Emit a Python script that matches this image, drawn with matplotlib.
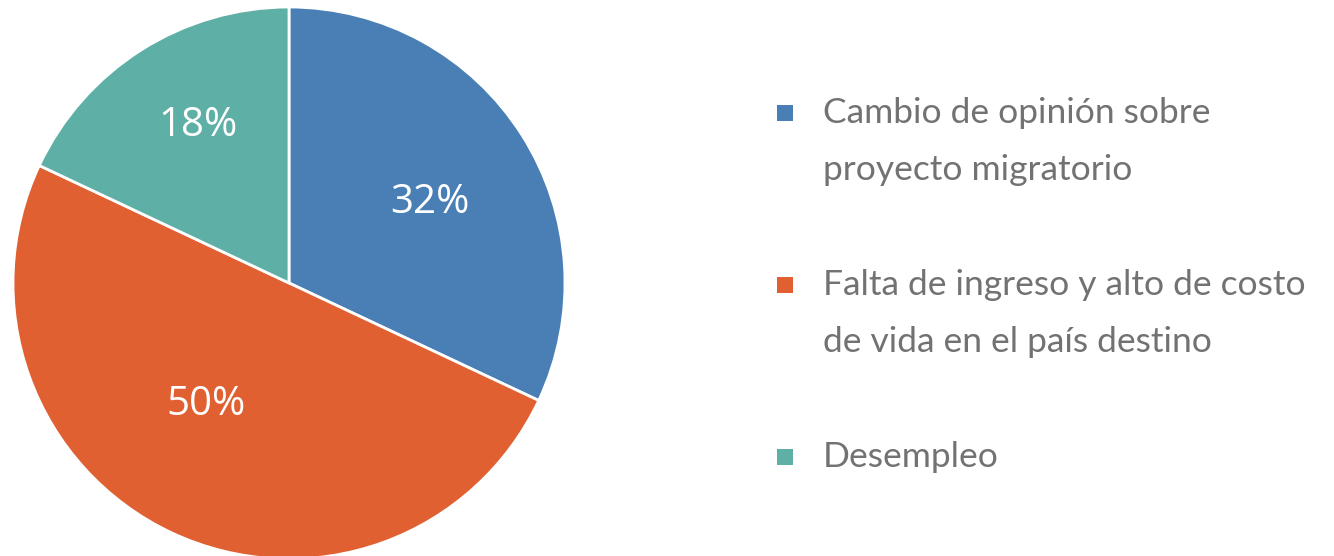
import matplotlib
matplotlib.use("Agg")
import matplotlib.pyplot as plt
from matplotlib.patches import Rectangle

# datos
categorias = ["Cambio de opinión sobre\nproyecto migratorio",
              "Falta de ingreso y alto de costo\nde vida en el país destino",
              "Desempleo"]
valores = [32, 50, 18]
colores = ["#4A7FB5", "#E06031", "#5EB0A6"]

W, H = 1334, 556
fig = plt.figure(figsize=(W / 100, H / 100), dpi=100)

# pie: centro ~(289, 283) px, radio ~276 px
cx, cy, r = 289, 283, 276
ax = fig.add_axes([(cx - r) / W, (H - cy - r) / H, 2 * r / W, 2 * r / H])
wedges, textos, pcts = ax.pie(valores, colors=colores, startangle=90, counterclock=False,
                              radius=1, autopct="%d%%", pctdistance=0.6,
                              wedgeprops=dict(edgecolor="white", linewidth=2),
                              textprops=dict(color="white", fontsize=29, family="Open Sans"))
ax.set_xlim(-1, 1)
ax.set_ylim(-1, 1)
ax.set_aspect("equal")
ax.axis("off")

# ajuste fino de las etiquetas
pos_etiquetas = [(0.51, 0.29), (-0.30, -0.44), (-0.33, 0.57)]
for t, p in zip(pcts, pos_etiquetas):
    t.set_position(p)
    t.set_ha("center")
    t.set_va("center")

# leyenda manual
y = 113
paso = 57
for cat, col in zip(categorias, colores):
    lineas = cat.split("\n")
    fig.patches.append(Rectangle(((777) / W, (H - y - 8) / H), 16 / W, 16 / H,
                                 transform=fig.transFigure, facecolor=col, edgecolor="none"))
    for i, l in enumerate(lineas):
        fig.text(823 / W, (H - y - i * paso) / H, l, fontsize=25.5, family="Lato",
                 color="#727272", va="center", ha="left")
    y += len(lineas) * paso + 58

fig.savefig("out.png", dpi=100, facecolor="white")
